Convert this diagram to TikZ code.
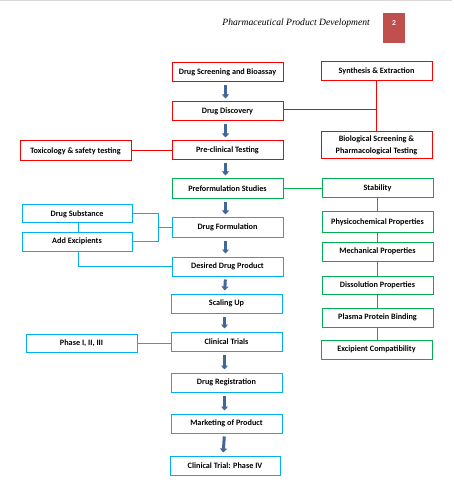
\documentclass[tikz,border=0pt]{standalone}
\usepackage{fontspec}
\setmainfont{Carlito}
\newfontfamily\headfont{Liberation Serif}
\usetikzlibrary{arrows.meta,positioning,calc}
\definecolor{cred}{HTML}{FF0000}
\definecolor{cgreen}{HTML}{00B050}
\definecolor{cblue}{HTML}{00B0F0}
\definecolor{carrow}{HTML}{41679A}
\definecolor{cpage}{HTML}{C0504D}
\definecolor{cgray}{HTML}{D9D9D9}
\tikzset{
  box/.style={draw, line width=1pt, minimum width=111pt, minimum height=19pt, inner sep=1pt,
    font=\fontsize{8.2}{12}\selectfont\bfseries, align=center, text=black},
  redbox/.style={box, draw=cred},
  greenbox/.style={box, draw=cgreen},
  bluebox/.style={box, draw=cblue},
  redline/.style={draw=cred, line width=1pt},
  greenline/.style={draw=cgreen, line width=1pt},
  blueline/.style={draw=cblue, line width=1pt},
  flowarrow/.style={draw=carrow, line width=3pt, -{Triangle[width=7pt,length=4pt]}, shorten <=3pt, shorten >=3pt},
}
\newcommand{\flow}[2]{\draw[flowarrow] ([xshift=-2pt]#1.south) -- ([xshift=-2pt]#2.north);}
\begin{document}
\begin{tikzpicture}[x=1pt,y=1pt]
\useasboundingbox (0,0) rectangle (453,-502);
\fill[cgray] (0,0) rectangle (452,-1.5);
% header
\node[font=\headfont\itshape\fontsize{9.6}{12}\selectfont, anchor=east, inner sep=0pt] (head) at (370,-23) {Pharmaceutical Product Development};
\node[fill=cpage, minimum width=22pt, minimum height=30pt, inner sep=0pt] (pg) at (394,-28) {};
\node[text=white, font=\fontsize{7.5}{8}\selectfont\bfseries, inner sep=0pt] (pgn) at (394,-23) {2};
% main column
\node[redbox] (ds) at (227.5,-72.5) {Drug Screening and Bioassay};
\node[redbox] (dd) at (227.5,-111.5) {Drug Discovery};
\node[redbox] (pc) at (227.5,-150.5) {Pre-clinical Testing};
\node[greenbox, minimum height=20pt] (pf) at (227.5,-189) {Preformulation Studies};
\node[bluebox] (df) at (227.5,-227.5) {Drug Formulation};
\node[bluebox] (ddp) at (227.5,-266.5) {Desired Drug Product};
\node[bluebox] (su) at (226.5,-303.5) {Scaling Up};
\node[bluebox] (ct) at (226.5,-341.5) {Clinical Trials};
\node[bluebox] (dr) at (226.5,-382.5) {Drug Registration};
\node[bluebox] (mp) at (226.5,-423.5) {Marketing of Product};
\node[bluebox, minimum width=110pt] (cf) at (225,-465.5) {Clinical Trial: Phase IV};
% right column
\node[redbox] (se) at (376.5,-71.5) {Synthesis \& Extraction};
\node[redbox, minimum height=27pt] (bs) at (376.5,-145.5) {Biological Screening \&\\Pharmacological Testing};
\node[greenbox] (st) at (377.5,-188.5) {Stability};
\node[greenbox, minimum height=20pt] (pp) at (377.5,-222) {Physicochemical Properties};
\node[greenbox] (mec) at (377.5,-251.5) {Mechanical Properties};
\node[greenbox, minimum height=18pt] (dis) at (377.5,-285) {Dissolution Properties};
\node[greenbox] (ppb) at (377.5,-317.5) {Plasma Protein Binding};
\node[greenbox] (ec) at (376.5,-349.5) {Excipient Compatibility};
% left column
\node[redbox, minimum height=20pt] (tox) at (75.5,-151) {Toxicology \& safety testing};
\node[bluebox, minimum width=110pt, minimum height=18pt] (dsub) at (77,-214) {Drug Substance};
\node[bluebox, minimum width=110pt] (ae) at (77,-241.5) {Add Excipients};
\node[bluebox, minimum height=18pt] (ph) at (81.5,-343) {Phase I, II, III};
% arrows
\flow{ds}{dd}
\flow{dd}{pc}
\flow{pc}{pf}
\flow{pf}{df}
\flow{df}{ddp}
\flow{ddp}{su}
\flow{su}{ct}
\flow{ct}{dr}
\flow{dr}{mp}
\flow{mp}{cf}
% red connectors
\draw[redline] (se.south) -- (bs.north);
\draw[redline] ([yshift=1.5pt]dd.east) -- ([yshift=1.5pt]dd.east -| se.south);
\draw[redline] (tox.east) -- (tox.east -| pc.west);
% green connectors
\draw[greenline] (pf.east) -- (pf.east -| st.west);
\draw[greenline] (st.south) -- (pp.north);
\draw[greenline] (pp.south) -- (mec.north);
\draw[greenline] (mec.south) -- (dis.north);
\draw[greenline] (dis.south) -- (ppb.north);
\draw[greenline] (ppb.south) -- (ppb.south |- ec.north);
% blue connectors
\draw[blueline] (dsub.east) -- ++(26,0) |- (ae.east);
\draw[blueline] (df.west) -- ++(-14,0);
\draw[blueline] ([xshift=1pt]dsub.south) -- ([xshift=1pt]ae.north);
\draw[blueline] ([xshift=1pt]ae.south) |- (ddp.west);
\draw[blueline] (ph.east) -- (ph.east -| ct.west);
\end{tikzpicture}
\end{document}
